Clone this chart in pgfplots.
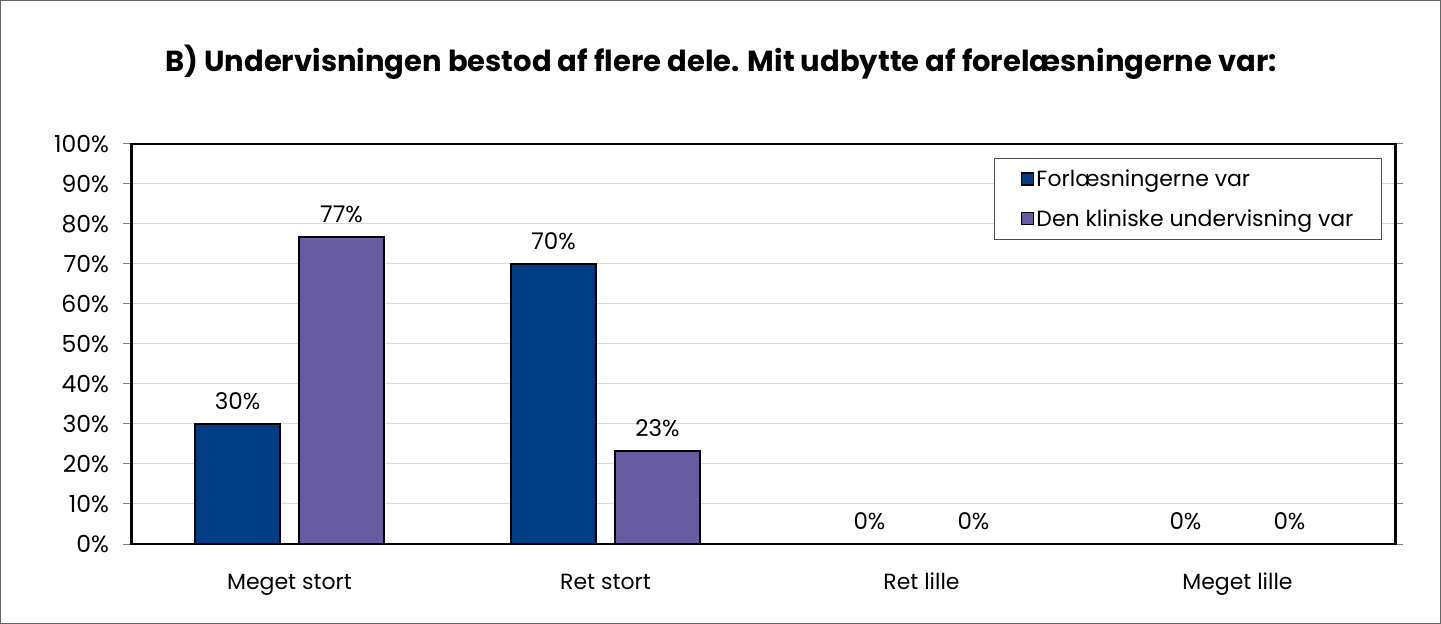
\documentclass[border=0pt]{standalone}
\usepackage{fontspec}
\setmainfont{Poppins}
\usepackage{pgfplots}
\pgfplotsset{compat=1.18}
\definecolor{cblue}{RGB}{0,61,133}
\definecolor{cpurple}{RGB}{103,91,161}
\begin{document}
\begin{tikzpicture}
\begin{axis}[
  scale only axis, width=1264pt, height=400pt,
  at={(0pt,0pt)}, anchor=south west,
  ybar=19pt, bar width=85pt,
  xmin=-0.5, xmax=3.5, ymin=0, ymax=100,
  xtick={0,1,2,3},
  xticklabels={Meget stort,Ret stort,Ret lille,Meget lille},
  x tick style={draw=none},
  ytick={0,10,...,100},
  yticklabel={\pgfmathprintnumber{\tick}\%},
  /pgf/number format/assume math mode=true,
  ymajorgrids, grid style={draw=black!15, line width=1pt},
  axis line style={line width=2.5pt},
  tick align=outside, major tick length=8pt,
  y tick style={draw=gray, line width=1pt},
  xticklabel style={font=\fontsize{22}{26}\selectfont, anchor=base, yshift=-37pt},
  yticklabel style={font=\fontsize{23.5}{27}\selectfont, xshift=-11pt},
  nodes near coords={\pgfmathprintnumber[fixed,precision=0,assume math mode=true]{\pgfplotspointmeta}\%},
  nodes near coords style={font=\fontsize{23}{27}\selectfont, yshift=10pt},
  legend style={at={(axis description cs:0.9893,0.966)}, anchor=north east,
    draw=black!70, line width=1pt, font=\fontsize{22}{26}\selectfont,
    inner xsep=26pt, inner ysep=10pt, row sep=17pt, cells={anchor=west}},
  legend image code/.code={\draw[#1, line width=1.8pt] (0pt,-6pt) rectangle (12pt,6pt);},
]
\addplot[fill=cblue, draw=black, line width=2pt] coordinates {(0,30) (1,70) (2,0) (3,0)};
\addplot[fill=cpurple, draw=black, line width=2pt] coordinates {(0,76.7) (1,23.3) (2,0) (3,0)};
\legend{Forlæsningerne var, Den kliniske undervisning var}
\end{axis}
\node[font=\bfseries\fontsize{29}{34}\selectfont] at (589.5pt,482pt) {B) Undervisningen bestod af flere dele. Mit udbytte af forelæsningerne var:};
\draw[black!60, line width=1pt] (-131pt,-79.5pt) rectangle (1309pt,543.5pt);
\end{tikzpicture}
\end{document}
